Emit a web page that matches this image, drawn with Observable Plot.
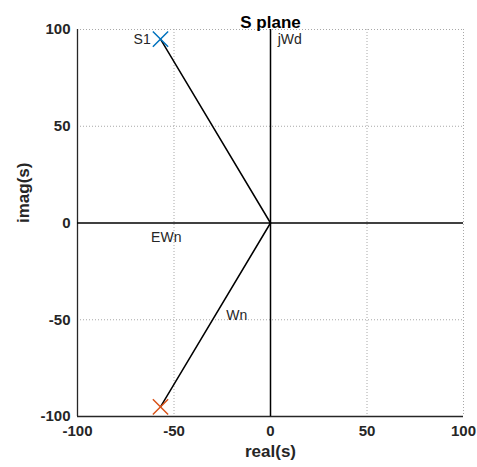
<!DOCTYPE html>
<html>
<head>
<meta charset="utf-8">
<script src="https://cdn.jsdelivr.net/npm/d3@7"></script>
<script src="https://cdn.jsdelivr.net/npm/@observablehq/plot@0.6"></script>
<style>
body { margin: 0; background: #fff; }
#chart svg { font-family: "Liberation Sans", Arial, sans-serif; }
</style>
</head>
<body>
<div id="chart"></div>
<script>
const ticks = [-100, -50, 0, 50, 100];
const poleRe = [-57, -57];
const poleIm = [95, -95];
const poleColors = ["#0072BD", "#D95319"];
const labelText = ["S1", "jWd", "EWn", "Wn"];
const labelRe = [-66.5, 10, -54, -17.5];
const labelIm = [95, 95, -7.5, -48];

const poles = poleRe.map((x, i) => ({x, y: poleIm[i], c: poleColors[i]}));
const rays = poles.flatMap((p, i) => [{x: 0, y: 0, g: i}, {x: p.x, y: p.y, g: i}]);
const labels = labelText.map((t, i) => ({t, x: labelRe[i], y: labelIm[i]}));
const grid = ticks.filter(t => t !== 0 && t !== -100);

const chart = Plot.plot({
  width: 477,
  height: 467,
  marginLeft: 77,
  marginRight: 14,
  marginTop: 29,
  marginBottom: 51,
  x: {domain: [-100, 100]},
  y: {domain: [-100, 100]},
  style: {fontFamily: "Liberation Sans, Arial, sans-serif", background: "#fff"},
  marks: [
    Plot.ruleX(grid, {stroke: "#a8a8a8", strokeDasharray: "1,2", strokeWidth: 1}),
    Plot.ruleY(grid, {stroke: "#a8a8a8", strokeDasharray: "1,2", strokeWidth: 1}),
    Plot.ruleX([-100], {stroke: "#262626", strokeWidth: 1.3}),
    Plot.ruleY([-100], {stroke: "#262626", strokeWidth: 1.3}),
    Plot.ruleX([0], {stroke: "#000", strokeWidth: 1.5}),
    Plot.ruleY([0], {stroke: "#000", strokeWidth: 1.5}),
    Plot.axisX({ticks, tickSize: 0, tickPadding: 9, tickFormat: d => String(d), fontSize: 15, fontWeight: "bold", fill: "#262626", label: null}),
    Plot.axisY({ticks, tickSize: 0, tickPadding: 7, tickFormat: d => String(d), fontSize: 15, fontWeight: "bold", fill: "#262626", label: null}),
    Plot.text(["real(s)"], {frameAnchor: "bottom", dy: 40, fontSize: 17, fontWeight: "bold", fill: "#262626"}),
    Plot.text(["imag(s)"], {frameAnchor: "left", dx: -54, rotate: -90, fontSize: 17, fontWeight: "bold", fill: "#262626"}),
    Plot.text(["S plane"], {frameAnchor: "top", dy: -14, fontSize: 17, fontWeight: "bold", fill: "#000"}),
    Plot.line(rays, {x: "x", y: "y", z: "g", stroke: "#000", strokeWidth: 1.5}),
    Plot.dot(poles, {x: "x", y: "y", symbol: "times", r: 7, stroke: "c", strokeWidth: 1.5}),
    Plot.text(labels, {x: "x", y: "y", text: "t", fontSize: 14, fill: "#262626"})
  ]
});
document.getElementById("chart").append(chart);
</script>
</body>
</html>
